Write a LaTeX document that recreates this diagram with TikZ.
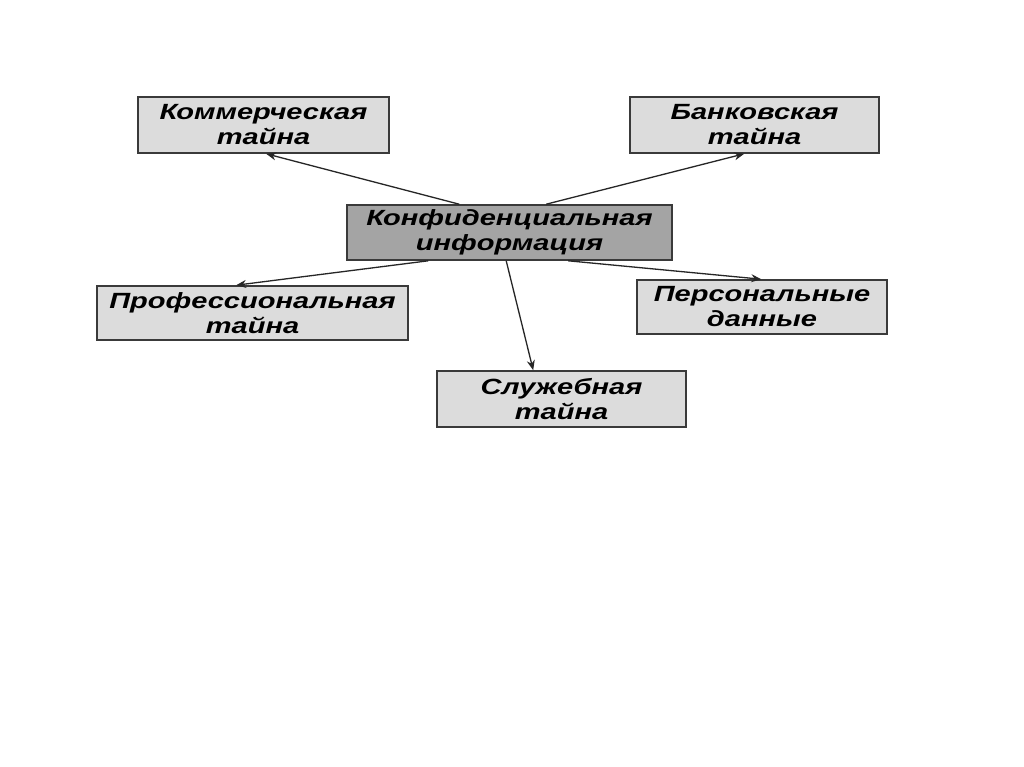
\documentclass[tikz,border=0pt]{standalone}
\usepackage{fontspec}
\setmainfont{Liberation Sans}[FakeStretch=1.32]
\usetikzlibrary{arrows.meta}
\definecolor{boxfill}{HTML}{DCDCDC}
\definecolor{centerfill}{HTML}{A4A4A4}
\definecolor{boxline}{HTML}{3A3A3A}
\begin{document}
\begin{tikzpicture}[x=1pt,y=-1pt,
  box/.style={draw=boxline, line width=1.6pt, fill=boxfill, inner sep=0pt,
    align=center, font=\fontsize{22}{25}\selectfont\bfseries\itshape},
  arr/.style={draw=black!85, line width=1.3pt, -{Stealth[length=10pt,width=8pt]}}
]
\useasboundingbox (0,0) rectangle (1024,767);
\fill[white] (0,0) rectangle (1024,767);

\node[box, minimum width=251pt, minimum height=56pt] (komm) at (263.5,125) {Коммерческая\\тайна};
\node[box, minimum width=249pt, minimum height=56pt] (bank) at (754.5,125) {Банковская\\тайна};
\node[box, fill=centerfill, minimum width=325pt, minimum height=55pt] (conf) at (509.5,232.5) {Конфиденциальная\\информация};
\node[box, minimum width=311pt, minimum height=54pt] (prof) at (252.5,313) {Профессиональная\\тайна};
\node[box, minimum width=250pt, minimum height=54pt] (pers) at (762,307) {Персональные\\данные};
\node[box, minimum width=249pt, minimum height=56pt] (sluzh) at (561.5,399) {Служебная\\тайна};

\coordinate (c1) at ([xshift=113pt]conf.north west);
\coordinate (c2) at ([xshift=200pt]conf.north west);
\coordinate (c3) at ([xshift=82pt]conf.south west);
\coordinate (c4) at ([xshift=222pt]conf.south west);
\coordinate (c5) at ([xshift=160pt]conf.south west);

\coordinate (k) at ([xshift=129pt]komm.south west);
\coordinate (b) at ([xshift=115pt]bank.south west);
\coordinate (p) at ([xshift=140pt]prof.north west);
\coordinate (q) at ([xshift=125pt]pers.north west);
\coordinate (s) at ([xshift=97pt]sluzh.north west);

\draw[arr] (c1) -- (k);
\draw[arr] (c2) -- (b);
\draw[arr] (c3) -- (p);
\draw[arr] (c4) -- (q);
\draw[arr] (c5) -- (s);
\end{tikzpicture}
\end{document}
